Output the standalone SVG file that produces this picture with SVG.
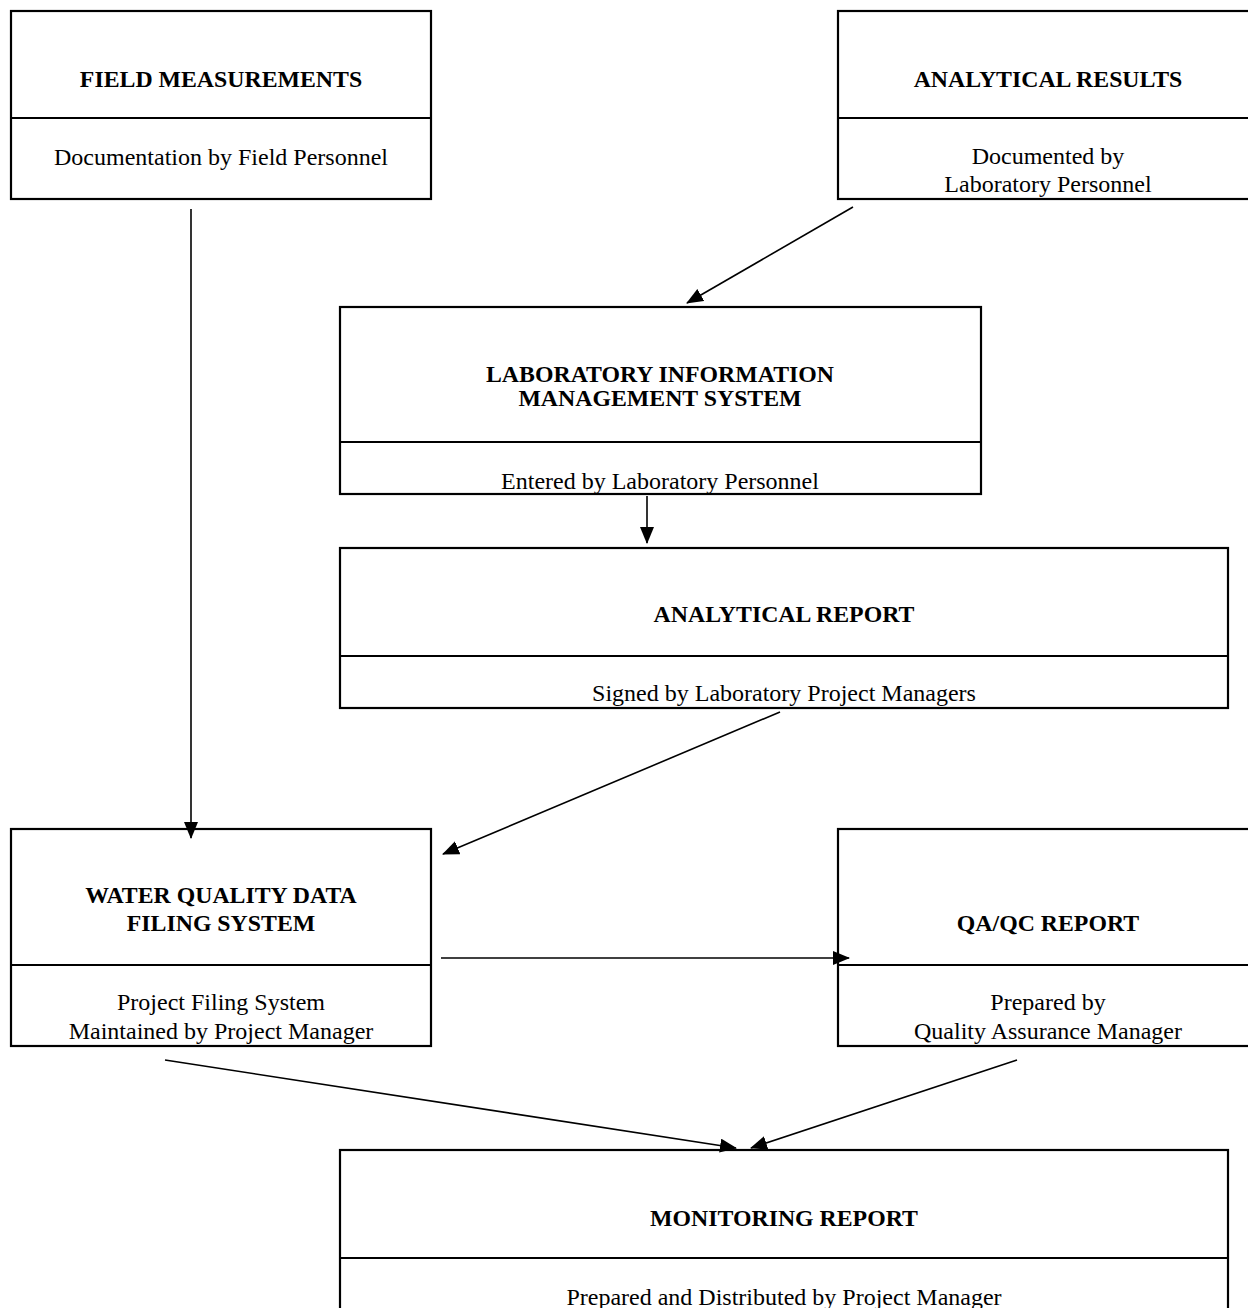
<svg xmlns="http://www.w3.org/2000/svg" width="1248" height="1308" viewBox="0 0 1248 1308">
<style>
.box{fill:#fff;stroke:#000;stroke-width:2.2}
.div{stroke:#000;stroke-width:2.2}
.t{font-family:"Liberation Serif","Times New Roman",serif;font-weight:bold;font-size:23.8px;text-anchor:middle;fill:#000}
.s{font-family:"Liberation Serif","Times New Roman",serif;font-size:24px;text-anchor:middle;fill:#000}
.c{stroke:#000;stroke-width:1.6;fill:none;marker-end:url(#ah)}
</style>
<defs>
<marker id="ah" markerUnits="userSpaceOnUse" markerWidth="18" markerHeight="16" refX="16" refY="7" orient="auto">
<path d="M0,0 L17,7 L0,14 z" fill="#000"/>
</marker>
</defs>
<rect width="1248" height="1308" fill="#fff"/>
<g id="field-measurements">
<rect class="box" x="11" y="11" width="420" height="188"/>
<line class="div" x1="11" y1="118" x2="431" y2="118"/>
<text class="t" x="221" y="87">FIELD MEASUREMENTS</text>
<text class="s" x="221" y="165">Documentation by Field Personnel</text>
</g>
<g id="analytical-results">
<rect class="box" x="838" y="11" width="416" height="188"/>
<line class="div" x1="838" y1="118" x2="1254" y2="118"/>
<text class="t" x="1048" y="87">ANALYTICAL RESULTS</text>
<text class="s" x="1048" y="164">Documented by</text>
<text class="s" x="1048" y="192">Laboratory Personnel</text>
</g>
<g id="lims">
<rect class="box" x="340" y="307" width="641" height="187"/>
<line class="div" x1="340" y1="442" x2="981" y2="442"/>
<text class="t" x="660" y="382">LABORATORY INFORMATION</text>
<text class="t" x="660" y="406">MANAGEMENT SYSTEM</text>
<text class="s" x="660" y="489">Entered by Laboratory  Personnel</text>
</g>
<g id="analytical-report">
<rect class="box" x="340" y="548" width="888" height="160"/>
<line class="div" x1="340" y1="656" x2="1228" y2="656"/>
<text class="t" x="784" y="622">ANALYTICAL REPORT</text>
<text class="s" x="784" y="701">Signed by Laboratory Project Managers</text>
</g>
<g id="water-quality">
<rect class="box" x="11" y="829" width="420" height="217"/>
<line class="div" x1="11" y1="965" x2="431" y2="965"/>
<text class="t" x="221" y="903">WATER QUALITY DATA</text>
<text class="t" x="221" y="931">FILING SYSTEM</text>
<text class="s" x="221" y="1010">Project Filing System</text>
<text class="s" x="221" y="1039">Maintained by Project Manager</text>
</g>
<g id="qaqc-report">
<rect class="box" x="838" y="829" width="416" height="217"/>
<line class="div" x1="838" y1="965" x2="1254" y2="965"/>
<text class="t" x="1048" y="931">QA/QC REPORT</text>
<text class="s" x="1048" y="1010">Prepared by</text>
<text class="s" x="1048" y="1039">Quality Assurance Manager</text>
</g>
<g id="monitoring-report">
<rect class="box" x="340" y="1150" width="888" height="164"/>
<line class="div" x1="340" y1="1258" x2="1228" y2="1258"/>
<text class="t" x="784" y="1226">MONITORING REPORT</text>
<text class="s" x="784" y="1305">Prepared and Distributed by Project Manager</text>
</g>
<g id="connectors">
<line class="c" x1="191" y1="209" x2="191" y2="838"/>
<line class="c" x1="853" y1="207" x2="687" y2="303"/>
<line class="c" x1="647" y1="496" x2="647" y2="543"/>
<line class="c" x1="780" y1="712" x2="443" y2="854"/>
<line class="c" x1="441" y1="958" x2="849" y2="958"/>
<line class="c" x1="165" y1="1060" x2="736" y2="1148"/>
<line class="c" x1="1017" y1="1060" x2="751" y2="1148"/>
</g>
</svg>
